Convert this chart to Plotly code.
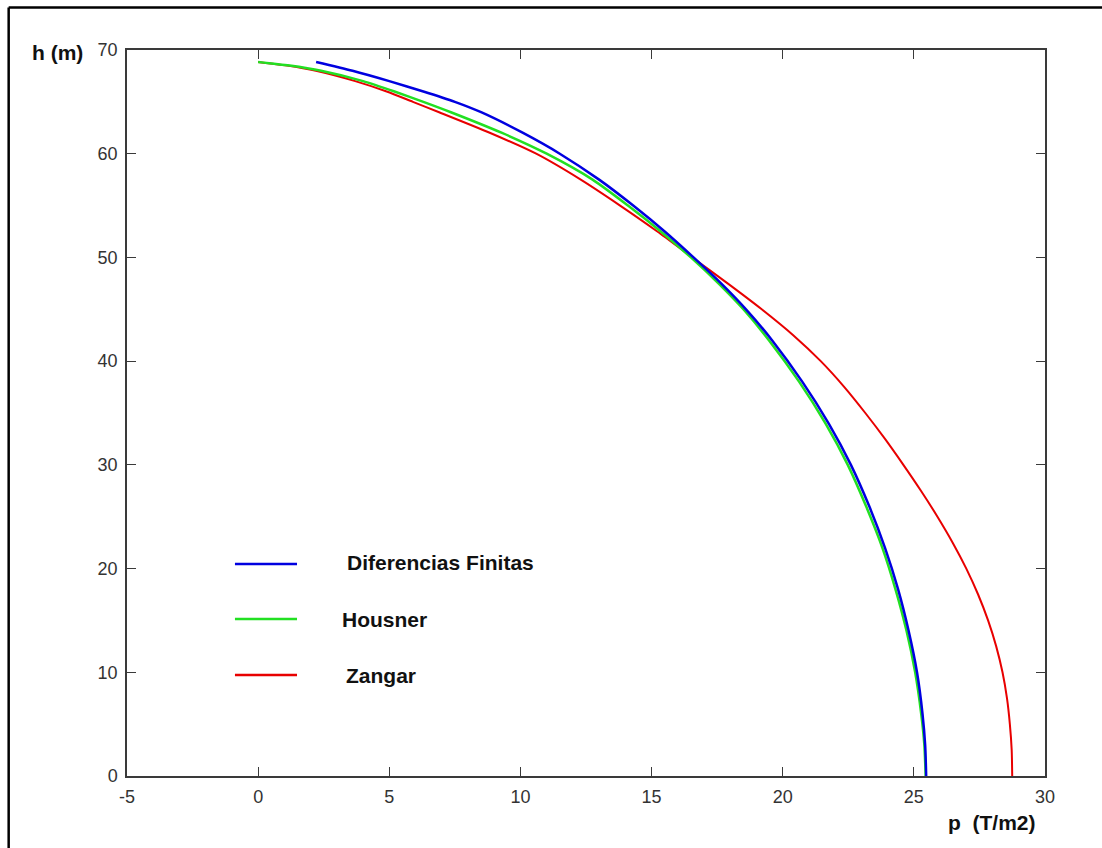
import plotly.graph_objects as go

# Diferencias Finitas
h_dif = [68.85, 68.0, 67.0, 66.0, 65.0, 64.0, 62.0, 60.0, 57.5, 55.0, 52.5, 50.0, 47.5, 45.0, 42.0, 38.0, 34.0, 30.0, 26.0, 22.0, 18.0, 14.0, 10.0, 6.0, 3.0, 0.0]
p_dif = [2.21, 3.6, 5.0, 6.3, 7.5, 8.5, 10.1, 11.5, 13.0, 14.3, 15.5, 16.6, 17.65, 18.6, 19.6, 20.75, 21.75, 22.6, 23.3, 23.9, 24.4, 24.8, 25.12, 25.33, 25.43, 25.47]

# Housner
h_hou = [68.85, 68.5, 68.0, 67.0, 66.0, 65.0, 64.0, 62.0, 60.0, 57.5, 55.0, 52.5, 50.0, 47.5, 45.0, 42.0, 38.0, 34.0, 30.0, 26.0, 22.0, 18.0, 14.0, 10.0, 6.0, 3.0, 0.0]
p_hou = [0.0, 1.2, 2.4, 4.0, 5.2, 6.3, 7.35, 9.3, 11.0, 12.75, 14.1, 15.35, 16.5, 17.55, 18.5, 19.48, 20.63, 21.63, 22.48, 23.18, 23.8, 24.3, 24.72, 25.05, 25.28, 25.4, 25.45]

# Zangar
h_zan = [68.85, 68.5, 68.0, 67.0, 66.0, 65.0, 64.0, 62.0, 60.0, 57.5, 55.0, 52.5, 50.0, 47.5, 45.0, 42.5, 40.0, 37.5, 35.0, 32.5, 30.0, 27.5, 25.0, 22.5, 20.0, 17.5, 15.0, 12.5, 10.0, 7.5, 5.0, 2.5, 0.0]
p_zan = [0.0, 1.1, 2.2, 3.7, 4.9, 5.9, 6.9, 8.85, 10.6, 12.3, 13.8, 15.22, 16.55, 17.9, 19.2, 20.4, 21.45, 22.35, 23.15, 23.9, 24.6, 25.27, 25.9, 26.48, 27.0, 27.45, 27.83, 28.14, 28.38, 28.55, 28.66, 28.73, 28.75]

x_ticks = [-5, 0, 5, 10, 15, 20, 25, 30]
x_ticktext = ["-5", "0", "5", "10", "15", "20", "25", "30"]
y_ticks = [0, 10, 20, 30, 40, 50, 60, 70]
y_ticktext = ["0", "10", "20", "30", "40", "50", "60", "70"]

series_names = ["Diferencias Finitas", "Housner", "Zangar"]
series_colors = ["#0000e0", "#22e022", "#e80000"]

fig = go.Figure()
fig.add_trace(go.Scatter(x=p_zan, y=h_zan, mode="lines", name=series_names[2],
                         line=dict(color=series_colors[2], width=2, shape="spline", smoothing=0.7),
                         showlegend=False))
fig.add_trace(go.Scatter(x=p_hou, y=h_hou, mode="lines", name=series_names[1],
                         line=dict(color=series_colors[1], width=2.5, shape="spline", smoothing=0.7),
                         showlegend=False))
fig.add_trace(go.Scatter(x=p_dif, y=h_dif, mode="lines", name=series_names[0],
                         line=dict(color=series_colors[0], width=2.5, shape="spline", smoothing=0.7),
                         showlegend=False))

axis_common = dict(
    showline=True, linecolor="#3a3a3a", linewidth=1.5, mirror="ticks",
    ticks="inside", ticklen=9, tickwidth=1.2, tickcolor="#3a3a3a",
    showgrid=False, zeroline=False, fixedrange=True,
    tickfont=dict(family="Liberation Sans, Arial, sans-serif", size=18, color="#333333"),
)

fig.update_xaxes(range=[-5, 30], tickvals=x_ticks, ticktext=x_ticktext, ticklabelstandoff=4, **axis_common)
fig.update_yaxes(range=[0, 70], tickvals=y_ticks, ticktext=y_ticktext, ticklabelstandoff=4, **axis_common)

shapes = []
# outer figure border (left and top)
shapes.append(dict(type="line", xref="paper", yref="paper", x0=-0.1289, x1=-0.1289, y0=-0.12, y1=1.0585,
                   line=dict(color="black", width=2.5)))
shapes.append(dict(type="line", xref="paper", yref="paper", x0=-0.1289, x1=1.08, y0=1.0585, y1=1.0585,
                   line=dict(color="black", width=2.5)))

# legend keys
leg_y = [0.2920, 0.2162, 0.1391]
leg_text_x = [0.2375, 0.232, 0.2364]
leg_text_y = [0.2934, 0.2149, 0.1391]
for i in range(3):
    shapes.append(dict(type="line", xref="paper", yref="paper", x0=0.1176, x1=0.1852,
                       y0=leg_y[i], y1=leg_y[i], line=dict(color=series_colors[i], width=2.5)))

annotations = []
for i in range(3):
    annotations.append(dict(xref="paper", yref="paper", x=leg_text_x[i], y=leg_text_y[i],
                            text="<b>" + series_names[i] + "</b>", showarrow=False,
                            xanchor="left", yanchor="middle",
                            font=dict(family="Liberation Sans, Arial, sans-serif", size=21, color="#111111")))

annotations.append(dict(xref="paper", yref="paper", x=-0.0757, y=0.996, text="<b>h (m)</b>",
                        showarrow=False, xanchor="center", yanchor="middle",
                        font=dict(family="Liberation Sans, Arial, sans-serif", size=21, color="#111111")))
annotations.append(dict(xref="paper", yref="paper", x=0.9423, y=-0.0647, text="<b>p\u00a0\u00a0(T/m2)</b>",
                        showarrow=False, xanchor="center", yanchor="middle",
                        font=dict(family="Liberation Sans, Arial, sans-serif", size=21, color="#111111")))

fig.update_layout(
    width=1102, height=848,
    margin=dict(l=127, r=57, t=50, b=72),
    paper_bgcolor="white", plot_bgcolor="white",
    shapes=shapes, annotations=annotations,
    showlegend=False,
)

fig.write_html("out.html", config={"displayModeBar": False})
